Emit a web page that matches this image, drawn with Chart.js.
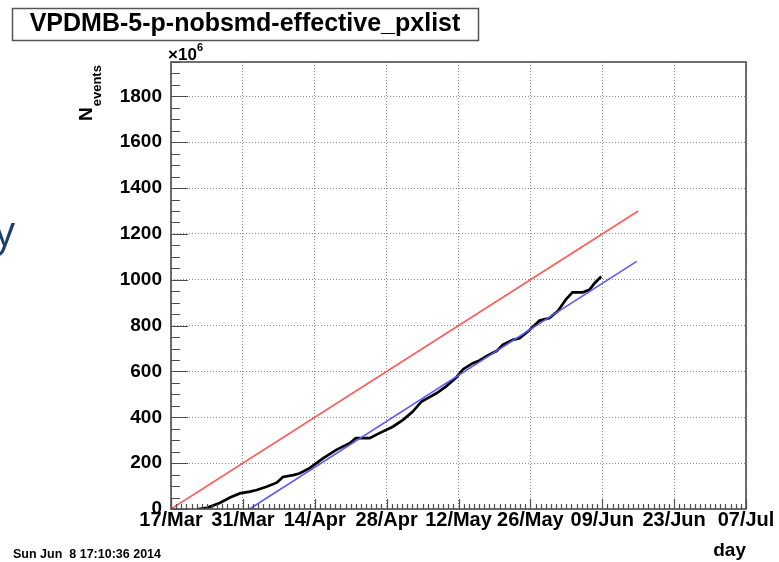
<!DOCTYPE html>
<html>
<head>
<meta charset="utf-8">
<script src="https://cdn.jsdelivr.net/npm/chart.js@4.4.0/dist/chart.umd.min.js"></script>
<style>
  html, body { margin: 0; padding: 0; background: #fff; }
  #wrap { position: relative; width: 779px; height: 562px; }
</style>
</head>
<body>
<div id="wrap"><canvas id="chart" width="779" height="562"></canvas></div>
<script>
// days since 17/Mar 2014 and accumulated events (x10^6)
const eventDays = [5.3, 7, 9.5, 11.5, 13.4, 15.4, 16.7, 18.6, 20.6, 21.8, 23.8, 25, 27, 29.6, 32.2, 34.8, 36,
  38.7, 40.6, 43.2, 45.2, 47.1, 48.8, 50.1, 51.7, 53.6, 55.6, 56.9, 58.8, 60.1, 61.7, 63.5, 64.6, 66.6, 67.9,
  69.8, 71.8, 73.7, 75.3, 76.9, 78.2, 80.2, 81.5, 82.5, 83.8]
const eventsM = [0, 5, 26, 50, 68, 76, 83, 97, 115, 140, 148, 155, 178, 221, 258, 287, 309,
  309, 331, 359, 389, 425, 469, 485, 505, 535, 575, 610, 636, 648, 670, 690, 716, 738, 745,
  780, 822, 833, 862, 913, 945, 945, 956, 985, 1014]

// goal line and fitted line
const goalDays = [0, 91]
const goalEvents = [0, 1300]
const fitDays = [15.3, 90.7]
const fitEvents = [0, 1080]

const xTickDays = [0, 14, 28, 42, 56, 70, 84, 98, 112]
const xTickLabels = ['17/Mar', '31/Mar', '14/Apr', '28/Apr', '12/May', '26/May', '09/Jun', '23/Jun', '07/Jul']
const yTickValues = [0, 200, 400, 600, 800, 1000, 1200, 1400, 1600, 1800]
const xMinorStep = 1
const yMinorStep = 50

const pts = (xs, ys) => xs.map((x, i) => ({x: x, y: ys[i]}))

const rootFrame = {
  id: 'rootFrame',
  afterDatasetsDraw(chart) {
    const ctx = chart.ctx
    const {left, right, top, bottom} = chart.chartArea
    const xs = chart.scales.x, ys = chart.scales.y
    ctx.save()
    ctx.strokeStyle = '#4d4d4d'
    ctx.lineWidth = 1.2
    ctx.beginPath()
    for (let d = xs.min; d <= xs.max; d += xMinorStep) {
      const px = Math.round(xs.getPixelForValue(d)) + 0.5
      const len = xTickDays.includes(d) ? 10 : 5
      ctx.moveTo(px, bottom)
      ctx.lineTo(px, bottom - len)
    }
    for (let v = ys.min; v <= ys.max; v += yMinorStep) {
      const py = Math.round(ys.getPixelForValue(v)) + 0.5
      const len = yTickValues.includes(v) ? 17 : 9
      ctx.moveTo(left, py)
      ctx.lineTo(left + len, py)
    }
    ctx.stroke()
    ctx.lineWidth = 1.6
    ctx.strokeRect(left, top, right - left, bottom - top)
    ctx.restore()
  },
  afterDraw(chart) {
    const ctx = chart.ctx
    ctx.save()
    ctx.fillStyle = '#000'
    // title box
    ctx.strokeStyle = '#555'
    ctx.lineWidth = 1.5
    ctx.strokeRect(12.5, 8.5, 466, 32)
    ctx.font = 'bold 25px "Liberation Sans"'
    ctx.textAlign = 'center'
    ctx.textBaseline = 'alphabetic'
    ctx.fillText('VPDMB-5-p-nobsmd-effective_pxlist', 245, 31)
    // axis multiplier
    ctx.textAlign = 'left'
    ctx.font = 'bold 17px "Liberation Sans"'
    ctx.fillText('\u00d710', 168, 60)
    ctx.font = 'bold 11px "Liberation Sans"'
    ctx.fillText('6', 197, 51)
    // y title
    ctx.save()
    ctx.translate(92, 121)
    ctx.rotate(-Math.PI / 2)
    ctx.font = 'bold 19px "Liberation Sans"'
    ctx.fillText('N', 0, 0)
    const nw = ctx.measureText('N').width
    ctx.font = 'bold 13px "Liberation Sans"'
    ctx.fillText('events', nw + 1, 9)
    ctx.restore()
    // x title
    ctx.textAlign = 'right'
    ctx.font = 'bold 19px "Liberation Sans"'
    ctx.fillText('day', 746, 556)
    // time stamp
    ctx.textAlign = 'left'
    ctx.font = 'bold 12.5px "Liberation Sans"'
    ctx.fillText('Sun Jun  8 17:10:36 2014', 13, 558)
    // letter from the slide behind
    ctx.fillStyle = '#1f3f6e'
    ctx.font = '42px "Open Sans"'
    ctx.fillText('y', -6, 246)
    ctx.restore()
  }
}

new Chart(document.querySelector('#chart').getContext('2d'), {
  type: 'scatter',
  data: {
    datasets: [
      {
        label: 'events',
        data: pts(eventDays, eventsM),
        showLine: true,
        borderColor: '#000',
        borderWidth: 2.7,
        pointRadius: 0,
        order: 2
      },
      {
        label: 'goal',
        data: pts(goalDays, goalEvents),
        showLine: true,
        borderColor: '#ff5a5a',
        borderWidth: 1.6,
        pointRadius: 0,
        order: 1
      },
      {
        label: 'fit',
        data: pts(fitDays, fitEvents),
        showLine: true,
        borderColor: '#5a5aff',
        borderWidth: 1.6,
        pointRadius: 0,
        order: 0
      }
    ]
  },
  options: {
    responsive: false,
    animation: false,
    devicePixelRatio: 1,
    layout: {padding: {left: 0, right: 33, top: 62, bottom: 0}},
    plugins: {legend: {display: false}, tooltip: {enabled: false}},
    scales: {
      x: {
        type: 'linear',
        min: 0,
        max: 112,
        afterBuildTicks: s => { s.ticks = xTickDays.map(v => ({value: v})) },
        afterFit: s => { s.height = 53 },
        ticks: {
          callback: (v, i) => xTickLabels[i],
          autoSkip: false,
          maxRotation: 0,
          padding: -1,
          color: '#000',
          font: {family: 'Liberation Sans', weight: 'bold', size: 20}
        },
        grid: {color: '#8a8a8a', lineWidth: 1, drawTicks: false},
        border: {display: false, dash: [1, 2]}
      },
      y: {
        type: 'linear',
        min: 0,
        max: 1950,
        afterBuildTicks: s => { s.ticks = yTickValues.map(v => ({value: v})) },
        afterFit: s => { s.width = 171 },
        ticks: {
          callback: v => String(v),
          autoSkip: false,
          padding: 9,
          color: '#000',
          font: {family: 'Liberation Sans', weight: 'bold', size: 19}
        },
        grid: {color: '#8a8a8a', lineWidth: 1, drawTicks: false},
        border: {display: false, dash: [1, 2]}
      }
    }
  },
  plugins: [rootFrame]
})
</script>
</body>
</html>
